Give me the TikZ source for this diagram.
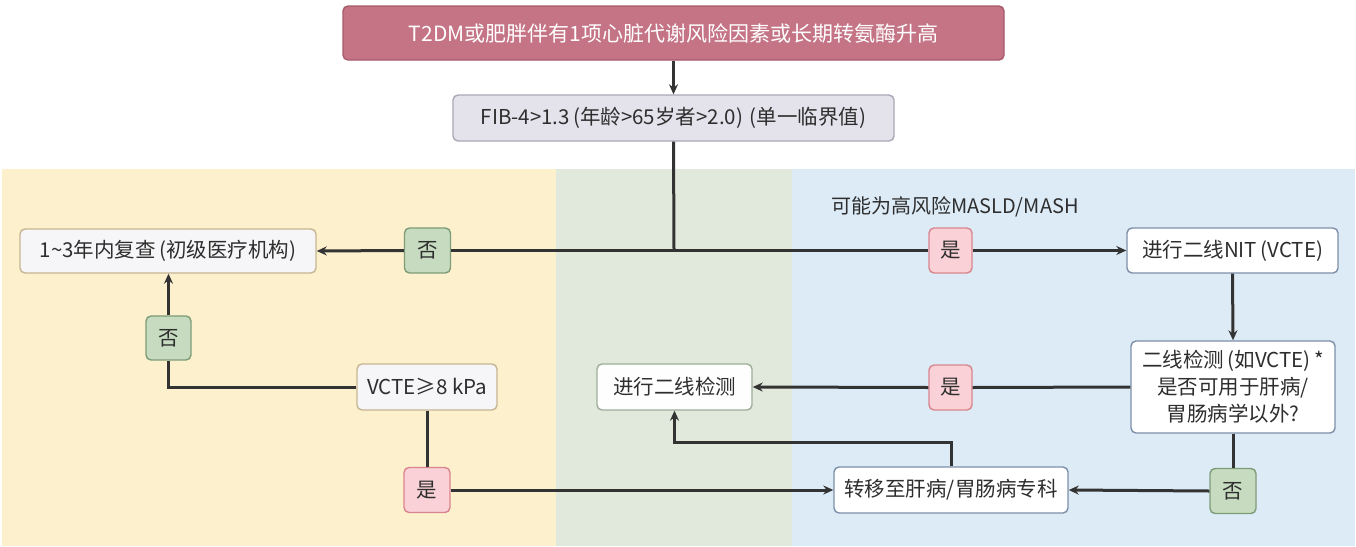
\documentclass[tikz,border=0pt]{standalone}
\usepackage{fontspec}
\setmainfont{Noto Sans CJK SC}
\usetikzlibrary{arrows.meta}
\definecolor{bgY}{HTML}{FDF0CD}
\definecolor{bgG}{HTML}{E1E8DC}
\definecolor{bgB}{HTML}{DDEBF7}
\definecolor{topF}{HTML}{C47485}
\definecolor{topD}{HTML}{A65A6B}
\definecolor{fibF}{HTML}{E4E3EC}
\definecolor{fibD}{HTML}{A9A8B6}
\definecolor{tanD}{HTML}{C6B693}
\definecolor{lgF}{HTML}{F6F6F8}
\definecolor{grnD}{HTML}{9DAE99}
\definecolor{bluD}{HTML}{7D8FA8}
\definecolor{noF}{HTML}{C6DBC0}
\definecolor{noD}{HTML}{7E9C78}
\definecolor{yesF}{HTML}{F9D1D6}
\definecolor{yesD}{HTML}{D9858F}
\definecolor{lineC}{HTML}{333333}
\definecolor{txt}{HTML}{2E2E2E}
\tikzset{
  box/.style={draw, line width=1.4pt, rounded corners=5pt, inner sep=0pt, align=center, font=\fontsize{20.5}{27}\selectfont, text=txt},
  lab/.style={box, minimum width=46pt, minimum height=45pt},
  nolab/.style={lab, fill=noF, draw=noD},
  yeslab/.style={lab, fill=yesF, draw=yesD},
  conn/.style={draw=lineC, line width=3pt},
  arr/.style={conn, -{Stealth[length=10pt,width=9pt]}},
}
\begin{document}
\begin{tikzpicture}[x=1pt,y=-1pt]
\useasboundingbox (0,0) rectangle (1356,546);
\fill[white] (0,0) rectangle (1356,546);
% panels
\fill[bgY] (2,169) rectangle (556,546);
\fill[bgG] (556,169) rectangle (792,546);
\fill[bgB] (792,169) rectangle (1355,546);

% main nodes
\node[box, fill=topF, draw=topD, text=white, minimum width=661pt, minimum height=54pt, font=\fontsize{21}{25}\selectfont] (top) at (673.5,33) {T2DM或肥胖伴有1项心脏代谢风险因素或长期转氨酶升高};
\node[box, fill=fibF, draw=fibD, minimum width=441pt, minimum height=46pt] (fib) at (673.5,118) {FIB-4>1.3\,(年龄>65岁者>2.0)\,\,(单一临界值)};
\node[box, fill=lgF, draw=tanD, minimum width=296pt, minimum height=44pt] (recheck) at (168,251) {1\textasciitilde 3年内复查\,(初级医疗机构)};
\node[box, fill=white, draw=bluD, minimum width=211pt, minimum height=45pt] (nit) at (1232.5,250.5) {进行二线NIT\,(VCTE)};
\node[box, fill=white, draw=bluD, minimum width=204pt, minimum height=92pt] (dec) at (1233,387) {二线检测\,(如VCTE)\,*\\是否可用于肝病/\\胃肠病学以外?};
\node[box, fill=white!97!bgG, draw=grnD, minimum width=155pt, minimum height=46pt] (second) at (674.5,387) {进行二线检测};
\node[box, fill=lgF, draw=tanD, minimum width=140pt, minimum height=46pt] (vcte) at (427,387) {VCTE≥8 kPa};
\node[box, fill=white, draw=bluD, minimum width=234pt, minimum height=46pt] (refer) at (951,490) {转移至肝病/胃肠病专科};
\node[font=\fontsize{20}{24}\selectfont, text=txt] (risk) at (955,207) {可能为高风险MASLD/MASH};

% label nodes
\node[nolab] (no1) at (427.5,250.5) {否};
\node[yeslab, minimum width=43pt] (yes1) at (950.5,250.5) {是};
\node[nolab, minimum width=45pt, minimum height=44pt] (no2) at (168.5,338) {否};
\node[yeslab, minimum width=43pt] (yes2) at (950.5,387.5) {是};
\node[nolab] (no3) at (1233,491) {否};
\node[yeslab] (yes3) at (427,490) {是};

\coordinate (j) at (674,250.5);

% connectors
\draw[arr] (top.south) -- (fib.north);
\draw[conn] (fib.south) -- (j);
\draw[conn] (j) -- (no1.east);
\draw[arr] (no1.west) -- (recheck.east);
\draw[conn] (j) -- (yes1.west);
\draw[arr] (yes1.east) -- (nit.west);
\draw[arr] (nit.south) -- (dec.north);
\draw[conn] (dec.west) -- (yes2.east);
\draw[arr] (yes2.west) -- (second.east);
\draw[conn] (dec.south) -- (no3.north);
\draw[arr] (no3.west) -- (refer.east);
\draw[arr] (refer.north) -- ++(0,-24) -| (second.south);
\draw[conn] (vcte.west) -| (no2.south);
\draw[arr] (no2.north) -- (no2.north |- recheck.south);
\draw[conn] (vcte.south) -- (yes3.north);
\draw[arr] (yes3.east) -- (refer.west);
\end{tikzpicture}
\end{document}
